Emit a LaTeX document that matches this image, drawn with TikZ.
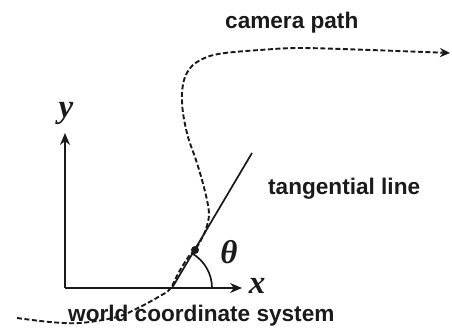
\documentclass[tikz,border=0pt]{standalone}
\usepackage{fontspec}
\setmainfont{Liberation Sans}
\newfontfamily\camserif{Liberation Serif}
\usetikzlibrary{arrows.meta}
\definecolor{camInk}{HTML}{1A1A1A}
\tikzset{
  cam axis/.style={draw=camInk, line width=2.3pt, -{Stealth[length=12pt,width=10pt]}},
  cam tangent/.style={draw=camInk, line width=1.7pt},
  cam path/.style={draw=camInk, line width=1.9pt, dash pattern=on 5pt off 2.5pt, -{Stealth[length=10pt,width=9pt]}},
  cam arc/.style={draw=camInk, line width=1.7pt},
  cam dot/.style={circle, fill=camInk, minimum size=8pt, inner sep=0pt},
  cam label/.style={font=\fontsize{22.6}{27}\selectfont\bfseries, text=camInk, inner sep=0pt, anchor=base west},
  cam math/.style={font=\fontsize{33}{37}\selectfont\camserif\bfseries\itshape, text=camInk, inner sep=0pt},
}

\begin{document}
\begin{tikzpicture}[x=1pt,y=-1pt]
  \useasboundingbox (0,0) rectangle (452,331);
  % axes
  \coordinate (origin) at (65,288);
  \coordinate (xend) at (242,288);
  \coordinate (yend) at (65,133);
  \draw[cam axis] (origin) -- (xend);
  \draw[cam axis] (origin) -- (yend);
  \node[cam math] (ylab) at (66,113) {y};
  \node[cam math] (xlab) at (257,286) {x};
  % tangential line and angle
  \coordinate (foot) at (172,288);
  \coordinate (top) at (252,153);
  \draw[cam tangent] (foot) -- (top);
  \draw[cam arc] (212,288) arc[start angle=0, end angle=-59.5, radius=40];
  \node[cam math] (theta) at (229,252) {θ};
  \node[cam dot] (campos) at (195,250) {};
  % camera path
  \draw[cam path] plot[smooth, tension=0.55] coordinates {(17,318) (50,322) (80,323) (117,317) (140,307) (160,296) (170,289) (179,272) (189,256) (campos) (201,240) (206,229) (209,215) (207,200) (202,180) (196,160) (188,137) (183,113) (182,93) (185,77) (193,65) (207,57) (225,53) (260,50) (300,48) (370,50) (450,53)};
  % labels
  \node[cam label] (pathlab) at (225,29) {camera path};
  \node[cam label] (tanlab) at (268,194) {tangential line};
  \node[cam label] (worldlab) at (68,321) {world coordinate system};
\end{tikzpicture}
\end{document}
